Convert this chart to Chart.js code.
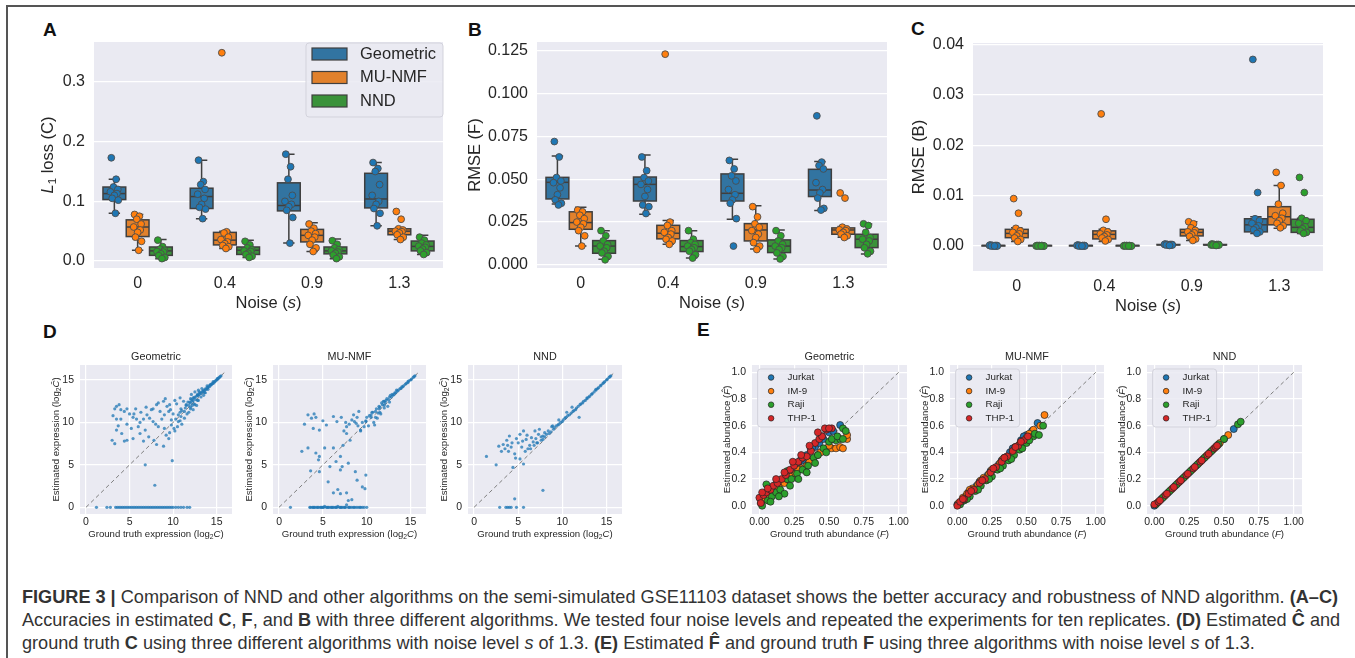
<!DOCTYPE html>
<html>
<head>
<meta charset="utf-8">
<script src="https://cdn.jsdelivr.net/npm/chart.js@4.4.1/dist/chart.umd.min.js"></script>
<style>
  body{margin:0;background:#fff;width:1355px;height:658px;overflow:hidden;position:relative;font-family:"Liberation Sans",Arial,sans-serif}
  #frame{position:absolute;left:6px;top:5px;width:1400px;height:700px;border-top:2px solid #555;border-left:2px solid #555}
  .pane{position:absolute}
  .pane canvas{display:block}
  .tag{position:absolute;font-weight:bold;font-size:19px;line-height:19px;color:#111}
  #cap{position:absolute;left:22px;top:586px;font-size:17.6px;line-height:23px;color:#333;white-space:nowrap}
  #cap span{display:block}
</style>
</head>
<body>
<div id="frame"></div>
<div class="tag" style="left:43px;top:20px">A</div>
<div class="tag" style="left:468px;top:20px">B</div>
<div class="tag" style="left:911px;top:19px">C</div>
<div class="tag" style="left:43px;top:322px">D</div>
<div class="tag" style="left:697px;top:320px">E</div>

<div class="pane" style="left:20px;top:30px;width:430px;height:300px"><canvas id="cA"></canvas></div>
<div class="pane" style="left:463px;top:30px;width:431px;height:300px"><canvas id="cB"></canvas></div>
<div class="pane" style="left:899px;top:30px;width:431px;height:300px"><canvas id="cC"></canvas></div>

<div class="pane" style="left:38px;top:345px;width:202px;height:200px"><canvas id="dGeo"></canvas></div>
<div class="pane" style="left:231px;top:345px;width:203px;height:200px"><canvas id="dMu"></canvas></div>
<div class="pane" style="left:426px;top:345px;width:204px;height:200px"><canvas id="dNnd"></canvas></div>

<div class="pane" style="left:710px;top:345px;width:205px;height:200px"><canvas id="eGeo"></canvas></div>
<div class="pane" style="left:908px;top:345px;width:204px;height:200px"><canvas id="eMu"></canvas></div>
<div class="pane" style="left:1105px;top:345px;width:205px;height:200px"><canvas id="eNnd"></canvas></div>

<div id="cap">
  <span id="l1"><b>FIGURE 3 |</b> Comparison of NND and other algorithms on the semi-simulated GSE11103 dataset shows the better accuracy and robustness of NND algorithm. <b>(A–C)</b></span>
  <span>Accuracies in estimated <b>C</b>, <b>F</b>, and <b>B</b> with three different algorithms. We tested four noise levels and repeated the experiments for ten replicates. <b>(D)</b> Estimated <b>Ĉ</b> and</span>
  <span>ground truth <b>C</b> using three different algorithms with noise level <i>s</i> of 1.3. <b>(E)</b> Estimated <b>F̂</b> and ground truth <b>F</b> using three algorithms with noise level <i>s</i> of 1.3.</span>
</div>

<script>
(function(){
  // ---- data ----
  const NOISE = ['0', '0.4', '0.9', '1.3'];
  const METHODS = ['Geometric', 'MU-NMF', 'NND'];
  const CELLS = ['Jurkat', 'IM-9', 'Raji', 'THP-1'];

  const A_YTICKS = [0, 0.1, 0.2, 0.3];
  const B_YTICKS = [0, 0.025, 0.05, 0.075, 0.1, 0.125];
  const C_YTICKS = [0, 0.01, 0.02, 0.03, 0.04];
  const D_TICKS = [0, 5, 10, 15];
  const E_XTICKS = [0, 0.25, 0.5, 0.75, 1];
  const E_YTICKS = [0, 0.2, 0.4, 0.6, 0.8, 1];

  // A: L1 loss (C), ten replicates per noise level; boxes = [low whisker, q1, median, q3, high whisker]
  const A_PTS_GEO = [
    [0.173,0.137,0.124,0.120,0.116,0.113,0.110,0.105,0.102,0.080],
    [0.169,0.133,0.128,0.120,0.112,0.105,0.095,0.090,0.087,0.071],
    [0.179,0.158,0.137,0.110,0.100,0.095,0.091,0.085,0.073,0.030],
    [0.165,0.155,0.150,0.128,0.110,0.100,0.095,0.088,0.080,0.059]];
  const A_PTS_MU = [
    [0.078,0.075,0.070,0.062,0.057,0.052,0.048,0.040,0.033,0.018],
    [0.349,0.049,0.047,0.040,0.036,0.032,0.029,0.026,0.024,0.021],
    [0.062,0.055,0.050,0.046,0.043,0.040,0.035,0.028,0.022,0.016],
    [0.083,0.070,0.054,0.052,0.050,0.049,0.047,0.044,0.040,0.036]];
  const A_PTS_NND = [
    [0.035,0.024,0.020,0.018,0.016,0.015,0.012,0.009,0.006,0.004],
    [0.033,0.027,0.022,0.019,0.017,0.016,0.013,0.011,0.008,0.006],
    [0.034,0.028,0.022,0.019,0.017,0.015,0.013,0.010,0.007,0.004],
    [0.040,0.035,0.030,0.027,0.025,0.023,0.020,0.017,0.014,0.011]];
  const A_BOX_GEO = [[0.080,0.103,0.113,0.124,0.137],[0.071,0.088,0.108,0.122,0.169],[0.030,0.084,0.093,0.131,0.179],[0.059,0.089,0.104,0.147,0.165]];
  const A_BOX_MU = [[0.018,0.041,0.057,0.069,0.078],[0.021,0.027,0.035,0.048,0.050],[0.016,0.032,0.043,0.053,0.064],[0.036,0.044,0.050,0.054,0.054]];
  const A_BOX_NND = [[0.004,0.0095,0.017,0.0235,0.036],[0.006,0.011,0.018,0.0235,0.035],[0.004,0.012,0.017,0.0235,0.037],[0.011,0.017,0.0245,0.0335,0.043]];

  // B: RMSE (F)
  const B_PTS_GEO = [
    [0.072,0.063,0.051,0.049,0.048,0.045,0.041,0.038,0.036,0.035],
    [0.063,0.055,0.051,0.049,0.047,0.044,0.040,0.035,0.034,0.030],
    [0.061,0.056,0.052,0.049,0.044,0.041,0.038,0.036,0.027,0.011],
    [0.087,0.060,0.058,0.056,0.048,0.044,0.042,0.039,0.033,0.032]];
  const B_PTS_MU = [
    [0.032,0.031,0.029,0.027,0.025,0.024,0.022,0.020,0.017,0.011],
    [0.123,0.025,0.023,0.020,0.019,0.018,0.016,0.015,0.014,0.012],
    [0.034,0.028,0.024,0.022,0.020,0.018,0.016,0.013,0.011,0.009],
    [0.042,0.039,0.022,0.021,0.0205,0.020,0.019,0.018,0.017,0.016]];
  const B_PTS_NND = [
    [0.020,0.017,0.014,0.012,0.011,0.010,0.008,0.007,0.005,0.003],
    [0.020,0.015,0.013,0.012,0.011,0.010,0.009,0.008,0.006,0.004],
    [0.020,0.017,0.014,0.012,0.011,0.010,0.009,0.007,0.005,0.0035],
    [0.024,0.023,0.019,0.016,0.015,0.014,0.012,0.010,0.008,0.0065]];
  const B_BOX_GEO = [[0.0356,0.0385,0.0482,0.0511,0.0636],[0.0295,0.0373,0.047,0.0513,0.0642],[0.0266,0.0373,0.0418,0.0531,0.0616],[0.0317,0.0399,0.0437,0.0558,0.0603]];
  const B_BOX_MU = [[0.011,0.0208,0.0247,0.031,0.0336],[0.012,0.0152,0.0185,0.0231,0.0259],[0.0093,0.014,0.0204,0.0241,0.0346],[0.0161,0.0179,0.0204,0.0216,0.0224]];
  const B_BOX_NND = [[0.0033,0.0068,0.011,0.0142,0.020],[0.004,0.0078,0.0107,0.0142,0.020],[0.0035,0.0072,0.011,0.0146,0.0204],[0.0064,0.0101,0.015,0.0179,0.0239]];

  // C: RMSE (B)
  const C_PTS_GEO = [
    [0.0002,0.0001,0.0001,0.0001,0.0001,0,0,0,0,0],
    [0.0002,0.0001,0.0001,0.0001,0.0001,0,0,0,0,0],
    [0.0004,0.0003,0.0003,0.0003,0.0003,0.0002,0.0002,0.0002,0.0002,0.0001],
    [0.0370,0.0106,0.0054,0.0050,0.0045,0.0040,0.0036,0.0032,0.0028,0.0025]];
  const C_PTS_MU = [
    [0.0094,0.0065,0.0035,0.0030,0.0027,0.0024,0.0020,0.0016,0.0013,0.0009],
    [0.0262,0.0053,0.0031,0.0028,0.0024,0.0022,0.0019,0.0016,0.0013,0.0010],
    [0.0048,0.0044,0.0036,0.0031,0.0028,0.0026,0.0022,0.0019,0.0014,0.0011],
    [0.0146,0.0120,0.0083,0.0065,0.0060,0.0055,0.0050,0.0045,0.0040,0.0036]];
  const C_PTS_NND = [
    [0.0001,0.0001,0.0001,0,0,0,0,0,0,0],
    [0.0001,0.0001,0.0001,0,0,0,0,0,0,0],
    [0.0004,0.0003,0.0003,0.0003,0.0002,0.0002,0.0002,0.0002,0.0002,0.0001],
    [0.0136,0.0106,0.0055,0.0050,0.0045,0.0038,0.0034,0.0030,0.0027,0.0025]];
  const C_BOX_GEO = [[0,0,0.0001,0.0001,0.0002],[0,0,0.0001,0.0001,0.0002],[0.0001,0.0002,0.00025,0.0003,0.0004],[0.0025,0.0028,0.0042,0.0054,0.0058]];
  const C_BOX_MU = [[0.0009,0.00165,0.0025,0.0033,0.0036],[0.0009,0.0014,0.0023,0.0030,0.0033],[0.0011,0.0020,0.0027,0.0033,0.0048],[0.0035,0.0042,0.0058,0.0078,0.0120]];
  const C_BOX_NND = [[0,0,0.0001,0.0001,0.0001],[0,0,0.0001,0.0001,0.0001],[0.0001,0.0002,0.0002,0.0003,0.0004],[0.0025,0.0027,0.0037,0.0053,0.0055]];

  // D: estimated vs ground-truth expression (log2), noise s = 1.3
  const D_GEO = [
    [1.2,0],[2.4,0],[2.8,0],[3.4,0],[3.6,0],[3.8,0],[4.0,0],[4.2,0],[4.4,0],[4.6,0],[4.8,0],[5.0,0],[5.2,0],[5.4,0],[5.6,0],
    [5.8,0],[6.0,0],[6.2,0],[6.4,0],[6.6,0],[6.8,0],[7.0,0],[7.2,0],[7.4,0],[7.6,0],[7.8,0],[8.0,0],[8.2,0],[8.4,0],[8.6,0],
    [8.8,0],[9.0,0],[9.2,0],[9.4,0],[9.6,0],[9.8,0],[10.0,0],[10.3,0],[10.6,0],[10.9,0],[11.2,0],[11.6,0],[11.9,0],
    [3.3,11.6],[3.5,11.9],[3.8,12.1],[3.1,10.8],[3.5,10.4],[4.0,10.4],[4.7,11.6],[5.8,10.4],[6.6,10.4],[7.0,10.9],[7.5,11.5],
    [7.7,10.1],[8.1,12.1],[8.5,11.3],[8.9,12.5],[9.3,11.9],[9.7,11.5],[3.0,7.9],[3.3,7.5],[4.1,8.7],[4.7,7.9],[5.4,8.1],
    [6.2,8.7],[7.2,8.3],[8.1,7.4],[8.9,7.2],[5.2,9.3],[6.0,9.5],[6.8,9.1],[6.8,5.0],[7.9,2.6],[9.9,5.5],[4.7,9.8],[3.5,9.1],
    [6.3,11.2],[5.5,11.0],[8.0,9.8],[9.0,9.3],[4.4,11.3],
    [4.0,11.5],[5.0,11.0],[5.7,11.6],[6.9,11.8],[7.7,11.6],[8.3,12.3],[9.1,12.8],[9.6,12.1],[10.2,12.6],[10.8,12.9],[5.4,10.6],
    [6.2,10.0],[7.3,10.5],[8.7,10.4],[9.0,10.9],[8.3,9.5],[4.4,7.8],[3.7,9.6],[6.6,7.8],[7.8,7.9],[9.5,8.1],
    [10.5,9.5],[10.2,9.0],[10.8,10.2],[11.0,9.8],[11.3,10.5],[10.6,10.9],[11.8,11.2],[12.0,12.3],[11.5,12.0],[10.0,11.0],
    [9.8,10.3],[10.9,11.6],[11.2,12.5],[12.3,12.9],[12.5,12.1],[12.8,13.3],[11.6,11.0],[10.4,12.2],[9.5,11.3],[12.0,11.6],
    [11.5,12.1],[11.8,12.0],[12.0,12.8],[12.2,12.5],[12.4,12.9],[12.6,12.7],[12.8,13.2],[13.0,13.3],[13.2,13.4],[13.4,13.65],
    [13.6,13.75],[13.8,13.9],[14.0,14.1],[14.2,14.25],[14.4,14.45],[14.6,14.6],[14.8,14.8],[15.0,15.0],[15.2,15.2],[15.4,15.4],
    [12.1,13.3],[12.5,13.6],[12.9,13.8],[13.3,14.0],[13.0,13.6],[12.3,11.5],[12.7,12.0],[13.5,13.2],[13.9,14.3],[14.3,14.5],
    [12.2,12.0],[12.9,12.6],[13.7,13.5],[14.6,14.8],[15.1,15.2],
    [11.9,12.4],[12.1,12.7],[12.3,12.6],[12.5,13.0],[12.7,13.1],[12.9,13.2],[13.1,13.5],[13.3,13.6],[13.5,13.8],[13.7,13.95],
    [13.9,14.1],[14.1,14.3],[14.3,14.4],[14.5,14.6],[14.7,14.75],[14.9,14.95],[15.1,15.1],[15.3,15.3],[15.5,15.5],[12.0,11.8],
    [12.4,12.2],[12.8,12.6],[13.2,13.0],[13.6,13.5],[14.0,13.9],[11.0,11.4],[11.4,11.7],[11.7,12.4],[10.8,11.2],[11.3,11.3],
    [10.3,10.4],[10.6,10.1],[9.8,9.7],[10.1,9.3],[9.6,8.8],[9.2,8.5],[10.9,10.7]];
  const D_MU = [
    [1.3,0],[3.5,0],[3.6,0],[3.8,0],[3.9,0],[4.0,0],[4.1,0],[4.3,0],[4.4,0],[4.5,0],[4.7,0],[4.8,0],[4.9,0],[5.0,0],[5.1,0],
    [5.2,0.1],[5.4,0],[5.5,0],[5.6,0],[5.7,0],[5.9,0],[6.0,0],[6.1,0],[6.2,0],[6.4,0],[6.5,0],[6.6,0],[6.7,0.1],[6.9,0],
    [7.0,0],[7.1,0],[7.2,0],[7.4,0],[7.5,0],[7.6,0],[7.7,0.3],[7.9,0],[8.0,0],[8.1,0],[8.3,0],[8.5,0],[8.6,0],[8.8,0],
    [9.0,0],[9.2,0],[9.3,0],[9.5,0],[9.7,0],[10.0,0],
    [6.2,1.7],[6.7,2.1],[7.7,1.7],[7.9,0.8],[8.3,0.9],[8.9,3.2],[9.5,2.4],[9.8,2.2],[9.9,3.8],[3.6,4.3],[4.6,4.2],[5.6,3.0],
    [7.0,1.6],[7.2,4.8],[8.7,4.2],
    [2.6,6.6],[3.3,7.0],[4.2,6.4],[4.6,6.0],[5.2,7.0],[6.2,7.0],[6.5,5.4],[7.0,6.0],[7.3,7.3],[8.1,7.9],[7.9,5.2],[7.0,4.4],
    [5.8,4.8],[4.5,5.6],[7.4,9.0],[7.7,8.7],
    [2.9,9.8],[3.3,10.9],[3.7,10.5],[3.9,9.3],[4.2,10.6],[4.6,9.1],[5.4,9.7],[6.2,10.7],[6.6,10.1],[7.1,10.6],[7.7,9.5],
    [8.3,10.3],[8.9,10.6],[9.3,9.1],[9.9,10.1],[10.5,10.6],[10.9,9.7],[9.1,11.3],[8.5,10.9],[4.0,11.0],[5.0,10.2],
    [8.6,10.1],[8.0,9.8],[7.6,10.0],[8.8,9.9],
    [10.0,10.6],[10.5,10.9],[11.0,11.3],[11.3,11.1],[11.5,11.8],[11.8,12.1],[12.0,12.0],[12.2,12.6],[12.5,12.7],[12.8,13.0],
    [13.0,13.2],[13.3,13.5],[13.6,13.8],[13.9,14.0],[14.2,14.3],[14.5,14.6],[14.8,14.9],[15.1,15.1],[15.4,15.4],
    [10.8,10.0],[11.2,10.5],[11.6,11.0],[12.4,11.9],[9.7,9.5],[9.3,9.0],[10.2,9.6],[11.9,12.5],[12.7,13.2],[13.4,13.8],
    [14.0,14.2],[14.7,14.7],[10.7,11.2],[11.4,11.6],[12.1,12.3],[13.1,13.3],
    [10.3,10.8],[10.6,11.2],[11.1,11.6],[11.4,11.9],[11.7,12.3],[12.0,12.5],[12.3,12.8],[12.6,13.0],[12.9,13.3],[13.2,13.5],
    [13.5,13.7],[13.8,14.0],[14.1,14.2],[14.4,14.5],[14.7,14.8],[15.0,15.0],[15.3,15.3],[15.5,15.5],[11.0,10.6],[11.5,11.2],
    [12.0,11.7],[12.6,12.4],[9.9,10.2],[9.5,10.0],[9.0,9.6]];
  const D_NND = [
    [2.9,0],[3.6,0],[3.8,0],[4.0,0],[4.2,0],[4.8,0],[5.6,0],[4.6,1.0],[7.8,2.0],[1.4,6.0],[2.5,5.0],
    [2.8,7.2],[3.3,7.4],[3.5,6.9],[3.7,7.9],[4.0,8.4],[4.2,7.1],[4.6,6.3],[5.0,7.6],[5.2,8.6],[5.6,9.0],[5.9,8.0],[6.1,6.9],
    [6.5,8.2],[6.9,9.0],[7.1,7.6],[7.3,8.6],[7.4,9.2],[7.8,8.0],[8.0,8.8],[8.4,9.0],[8.8,9.5],[5.2,5.7],[5.6,5.1],[4.4,4.7],
    [3.9,6.6],[3.1,6.6],[4.7,5.8],[6.3,7.3],[5.4,7.1],[6.7,7.7],[7.6,8.3],
    [6.8,7.3],[7.2,7.6],[7.6,7.9],[8.0,8.3],[5.8,6.6],[6.4,6.9],[4.8,8.1],[5.5,7.8],[6.0,8.5],[7.0,8.1],[4.3,7.6],[3.8,7.3],
    [8.5,8.7],[9.0,9.2],[9.3,9.6],[9.6,9.8],[10.0,10.1],[10.3,10.5],[10.6,10.8],[11.0,11.1],[11.3,11.4],[11.6,11.7],
    [12.0,12.1],[12.3,12.3],[12.6,12.6],[13.0,13.0],[13.3,13.3],[13.6,13.6],[14.0,14.0],[14.3,14.3],[14.6,14.6],[15.0,15.0],
    [15.3,15.3],[11.9,10.6],[11.1,11.8],[7.8,8.4],[8.2,8.6],[8.9,9.6],[10.5,11.2],[9.6,10.3],[12.8,12.9],[13.8,13.9],[14.8,14.8],
    [8.7,8.9],[9.1,9.4],[9.5,9.7],[9.8,10.0],[10.1,10.3],[10.4,10.6],[10.8,10.9],[11.2,11.3],[11.5,11.5],[11.8,11.9],
    [12.1,12.2],[12.4,12.5],[12.8,12.8],[13.1,13.1],[13.4,13.4],[13.8,13.8],[14.1,14.1],[14.4,14.4],[14.7,14.7],[15.1,15.1],
    [15.4,15.4],[15.5,15.5]];
  const D_DIAG = [[0, 0], [16, 16]];

  // E: estimated vs ground-truth abundance per cell line, noise s = 1.3
  const E_GEO_JUR = [[0.02,0.04],[0.05,0.07],[0.08,0.10],[0.10,0.13],[0.13,0.15],[0.16,0.18],[0.19,0.22],[0.22,0.25],[0.25,0.28],[0.28,0.30],[0.31,0.34],[0.34,0.38],[0.37,0.42],[0.40,0.44],[0.43,0.47],[0.46,0.50],[0.50,0.55],[0.58,0.605],
    [0.12,0.16],[0.20,0.24],[0.30,0.35],[0.38,0.44],[0.45,0.52],[0.53,0.56]];
  const E_GEO_IM9 = [[0.01,0.02],[0.04,0.05],[0.07,0.08],[0.10,0.10],[0.14,0.14],[0.18,0.17],[0.22,0.22],[0.26,0.24],[0.30,0.28],[0.34,0.30],[0.38,0.35],[0.42,0.38],[0.46,0.42],[0.52,0.43],[0.55,0.43],[0.58,0.44],[0.63,0.50],[0.63,0.53],
    [0.12,0.13],[0.20,0.20],[0.28,0.27],[0.36,0.33],[0.44,0.40],[0.50,0.45],[0.60,0.43]];
  const E_GEO_RAJI = [[0.02,0.00],[0.05,0.16],[0.06,0.04],[0.09,0.07],[0.12,0.10],[0.15,0.12],[0.18,0.09],[0.20,0.20],[0.20,0.26],[0.23,0.20],[0.27,0.24],[0.31,0.27],[0.35,0.30],[0.39,0.36],[0.42,0.38],[0.46,0.43],[0.50,0.48],[0.55,0.49],[0.58,0.50],[0.60,0.58],[0.62,0.56],
    [0.08,0.03],[0.14,0.07],[0.22,0.15],[0.28,0.20],[0.34,0.25],[0.40,0.32],[0.48,0.40],[0.52,0.50],[0.56,0.52],[0.60,0.50]];
  const E_GEO_THP = [[0.00,0.06],[0.01,0.02],[0.03,0.08],[0.05,0.10],[0.08,0.12],[0.10,0.15],[0.13,0.17],[0.16,0.20],[0.19,0.23],[0.22,0.27],[0.25,0.30],[0.28,0.33],[0.31,0.36],[0.34,0.37],[0.37,0.41],[0.40,0.47],[0.43,0.50],[0.45,0.52],[0.48,0.57],[0.52,0.58],
    [0.02,0.10],[0.06,0.13],[0.12,0.20],[0.18,0.25],[0.24,0.33],[0.30,0.38],[0.36,0.45],[0.42,0.55],[0.47,0.58],[0.50,0.58]];
  const E_MU_JUR = [[0.00,0.01],[0.03,0.03],[0.06,0.07],[0.10,0.11],[0.14,0.15],[0.18,0.19],[0.22,0.23],[0.26,0.27],[0.30,0.31],[0.34,0.36],[0.38,0.40],[0.42,0.44],[0.46,0.49],[0.50,0.53],[0.58,0.62],
    [0.08,0.10],[0.16,0.18],[0.24,0.26],[0.32,0.34],[0.40,0.43],[0.48,0.52],[0.54,0.56]];
  const E_MU_IM9 = [[0.01,0.02],[0.04,0.06],[0.07,0.09],[0.11,0.13],[0.15,0.16],[0.19,0.21],[0.23,0.24],[0.27,0.28],[0.31,0.32],[0.35,0.36],[0.40,0.41],[0.45,0.46],[0.50,0.51],[0.55,0.57],[0.63,0.68],
    [0.09,0.12],[0.17,0.19],[0.25,0.27],[0.33,0.35],[0.42,0.44],[0.52,0.54],[0.60,0.60]];
  const E_MU_RAJI = [[0.02,0.01],[0.05,0.04],[0.09,0.07],[0.13,0.11],[0.17,0.15],[0.21,0.19],[0.25,0.22],[0.29,0.27],[0.33,0.30],[0.37,0.34],[0.41,0.38],[0.45,0.42],[0.50,0.47],[0.55,0.52],[0.56,0.54],[0.62,0.60],
    [0.07,0.05],[0.15,0.12],[0.23,0.20],[0.31,0.28],[0.39,0.35],[0.47,0.43],[0.52,0.49],[0.59,0.53]];
  const E_MU_THP = [[0.00,0.00],[0.02,0.03],[0.05,0.05],[0.08,0.09],[0.12,0.12],[0.16,0.17],[0.20,0.20],[0.24,0.25],[0.28,0.29],[0.32,0.33],[0.36,0.37],[0.40,0.41],[0.44,0.45],[0.48,0.49],[0.51,0.52],
    [0.04,0.05],[0.10,0.11],[0.18,0.19],[0.26,0.28],[0.34,0.36],[0.42,0.44],[0.46,0.48]];
  const E_NND_JUR = [[0.00,0.00],[0.05,0.05],[0.10,0.10],[0.15,0.15],[0.20,0.20],[0.25,0.25],[0.30,0.30],[0.35,0.35],[0.40,0.40],[0.45,0.45],[0.50,0.50],[0.57,0.575]];
  const E_NND_IM9 = [[0.02,0.02],[0.07,0.07],[0.12,0.12],[0.17,0.17],[0.22,0.22],[0.27,0.27],[0.32,0.32],[0.37,0.37],[0.42,0.42],[0.47,0.47],[0.53,0.53]];
  const E_NND_RAJI = [[0.01,0.01],[0.06,0.06],[0.11,0.11],[0.16,0.16],[0.21,0.21],[0.26,0.26],[0.31,0.31],[0.36,0.36],[0.41,0.41],[0.46,0.46],[0.50,0.50],[0.60,0.61],[0.62,0.63]];
  const E_NND_THP = [[0.00,0.01],[0.03,0.03],[0.04,0.04],[0.08,0.08],[0.09,0.09],[0.13,0.13],[0.14,0.14],[0.18,0.18],[0.19,0.19],[0.23,0.23],[0.24,0.24],[0.28,0.28],[0.29,0.29],[0.33,0.33],[0.34,0.34],[0.38,0.38],[0.39,0.39],[0.43,0.43],[0.44,0.44],[0.45,0.45]];
  const E_DIAG = [[0, 0], [1, 1]];

  // ---- styling ----
  const FONT = '"Liberation Sans", Arial, sans-serif';
  const BG = '#eaeaf2';
  const BOX_COLORS = ['#3274a1', '#e1812c', '#3a923a'];
  const PT_COLORS = ['#1f77b4', '#ff7f0e', '#2ca02c'];
  const CELL_COLORS = ['#1f77b4', '#ff7f0e', '#2ca02c', '#d62728'];
  const HUE_OFF = [-0.2667, 0, 0.2667];
  const BOX_W = 0.261;
  const JIT = [-0.035, 0.02, -0.01, 0.04, -0.045, 0.03, 0.0, -0.025, 0.045, 0.012];

  Chart.defaults.font.family = FONT;
  Chart.defaults.color = '#262626';
  Chart.defaults.animation = false;

  function qs(sel){ return document.querySelector(sel); }
  function fontOf(r, size){ return (r.i ? 'italic ' : '') + (r.b ? 'bold ' : '') + (r.sub ? size * 0.7 : size) + 'px ' + FONT; }
  function drawRich(ctx, runs, cx, cy, size, rot){
    ctx.save();
    ctx.translate(cx, cy);
    if (rot) ctx.rotate(-Math.PI / 2);
    ctx.fillStyle = '#262626'; ctx.textBaseline = 'middle'; ctx.textAlign = 'left';
    let w = 0;
    runs.forEach(r => { ctx.font = fontOf(r, size); w += ctx.measureText(r.t).width; });
    let x = -w / 2;
    runs.forEach(r => { ctx.font = fontOf(r, size); ctx.fillText(r.t, x, r.sub ? size * 0.28 : 0); x += ctx.measureText(r.t).width; });
    ctx.restore();
  }

  const bgPlugin = { id: 'panelBg', beforeDraw(chart){
    const a = chart.chartArea, c = chart.ctx;
    c.save(); c.fillStyle = BG; c.fillRect(a.left, a.top, a.right - a.left, a.bottom - a.top); c.restore();
  } };

  const textPlugin = { id: 'texts', afterDraw(chart, args, o){
    const a = chart.chartArea, c = chart.ctx, mid = (a.left + a.right) / 2;
    if (o.top) drawRich(c, o.top, mid, a.top - o.topDy, o.topSize, false);
    if (o.x) drawRich(c, o.x, mid, a.bottom + o.xDy, o.size, false);
    if (o.y) drawRich(c, o.y, a.left - o.yDx, (a.top + a.bottom) / 2, o.size, true);
  } };

  const boxPlugin = { id: 'boxes', beforeDatasetsDraw(chart, args, o){
    const c = chart.ctx, x = chart.scales.x, y = chart.scales.y;
    c.save(); c.lineWidth = 1.5; c.strokeStyle = '#3f3f3f';
    o.sets.forEach((set, h) => set.forEach((b, k) => {
      const cx = k + HUE_OFF[h];
      const l = x.getPixelForValue(cx - BOX_W / 2), r = x.getPixelForValue(cx + BOX_W / 2), m = x.getPixelForValue(cx);
      const cl = x.getPixelForValue(cx - BOX_W / 4), cr = x.getPixelForValue(cx + BOX_W / 4);
      const p = b.map(v => y.getPixelForValue(v));
      c.beginPath();
      c.moveTo(m, p[1]); c.lineTo(m, p[0]); c.moveTo(m, p[3]); c.lineTo(m, p[4]);
      c.moveTo(cl, p[0]); c.lineTo(cr, p[0]); c.moveTo(cl, p[4]); c.lineTo(cr, p[4]);
      c.stroke();
      c.fillStyle = BOX_COLORS[h];
      c.fillRect(l, p[3], r - l, p[1] - p[3]);
      c.strokeRect(l, p[3], r - l, p[1] - p[3]);
      c.beginPath(); c.moveTo(l, p[2]); c.lineTo(r, p[2]); c.stroke();
    }));
    c.restore();
  } };

  // legend boxes for panel A (patches) and panel E (markers)
  const legendPlugin = { id: 'legendBox', afterDatasetsDraw(chart, args, o){
    if (!o.items) return;
    const a = chart.chartArea, c = chart.ctx;
    const fx = o.anchor === 'right' ? a.right - o.w - o.inset : a.left + o.inset;
    const fy = a.top + o.insetTop;
    c.save();
    c.fillStyle = 'rgba(234,234,242,0.85)'; c.strokeStyle = '#d3d3dc'; c.lineWidth = 1;
    c.beginPath(); c.roundRect(fx, fy, o.w, o.h, 3); c.fill(); c.stroke();
    c.textBaseline = 'middle'; c.textAlign = 'left'; c.font = o.size + 'px ' + FONT; c.fillStyle = '#262626';
    o.items.forEach((it, i) => {
      const yy = fy + o.row0 + i * o.rowH;
      if (o.patch) {
        c.fillStyle = it.color; c.fillRect(fx + o.mx, yy - 6, 35, 12);
        c.strokeStyle = '#3f3f3f'; c.lineWidth = 1.2; c.strokeRect(fx + o.mx, yy - 6, 35, 12);
      } else {
        c.fillStyle = it.color; c.strokeStyle = '#222'; c.lineWidth = 0.7;
        c.beginPath(); c.arc(fx + o.mx, yy, 2.8, 0, Math.PI * 2); c.fill(); c.stroke();
      }
      c.fillStyle = '#262626'; c.fillText(it.label, fx + o.tx, yy);
    });
    c.restore();
  } };

  function axis(min, max, ticks, fmt, size, pad, fixed, isX, grid){
    return {
      type: 'linear', min, max,
      border: { display: false },
      grid: { display: grid, color: '#ffffff', lineWidth: 1.2, drawTicks: false },
      ticks: { font: { size }, padding: pad, color: '#262626', maxRotation: 0, autoSkip: false, callback: v => fmt(v) },
      afterBuildTicks(s){ s.ticks = ticks.map(v => ({ value: v })); },
      afterFit(s){
        if (isX) s.height = fixed; else s.width = fixed;
        s.paddingTop = 0; s.paddingBottom = 0; s.paddingLeft = 0; s.paddingRight = 0;
      }
    };
  }

  const NOISE_RUNS = [{ t: 'Noise (' }, { t: 's', i: 1 }, { t: ')' }];

  function boxPanel(id, pts, boxes, yMin, yMax, yTicks, dec, yRuns, yDx, padTop, xH, legend){
    const datasets = pts.map((set, h) => ({
      label: METHODS[h],
      data: [].concat(...set.map((vals, k) => vals.map((v, j) => ({ x: k + HUE_OFF[h] + JIT[j], y: v })))),
      backgroundColor: PT_COLORS[h], borderColor: '#4d4d4d', borderWidth: 0.9, pointRadius: 3.4
    }));
    new Chart(qs(id), {
      type: 'scatter',
      data: { datasets },
      options: {
        responsive: true, maintainAspectRatio: false,
        layout: { padding: { top: padTop, right: 7, left: 0, bottom: 0 } },
        scales: {
          x: axis(-0.5, 3.5, [0, 1, 2, 3], v => NOISE[v], 16, 6, xH, true, false),
          y: axis(yMin, yMax, yTicks, v => v.toFixed(dec), 16, 9, 74, false, true)
        },
        plugins: {
          legend: { display: false }, tooltip: { enabled: false },
          boxes: { sets: boxes },
          texts: { x: NOISE_RUNS, xDy: 35, y: yRuns, yDx: yDx, size: 16.5 },
          legendBox: legend || {}
        }
      },
      plugins: [bgPlugin, boxPlugin, textPlugin, legendPlugin]
    });
  }

  function toXY(arr){ return arr.map(p => ({ x: p[0], y: p[1] })); }

  function scatterPanel(id, datasets, xr, yr, xTicks, yTicks, fx, fy, title, xRuns, yRuns, yDx, legend){
    new Chart(qs(id), {
      type: 'scatter',
      data: { datasets },
      options: {
        responsive: true, maintainAspectRatio: false,
        layout: { padding: { top: 20, right: 8, left: 0, bottom: 0 } },
        scales: {
          x: axis(xr[0], xr[1], xTicks, fx, 10.5, 2, 31, true, true),
          y: axis(yr[0], yr[1], yTicks, fy, 10.5, 6, 42, false, true)
        },
        plugins: {
          legend: { display: false }, tooltip: { enabled: false },
          texts: { top: [{ t: title }], topDy: 8, topSize: 10.8, x: xRuns, xDy: 20, y: yRuns, yDx: yDx, size: 9.6 },
          legendBox: legend || {}
        }
      },
      plugins: [bgPlugin, textPlugin, legendPlugin]
    });
  }

  // ---- panels A-C ----
  boxPanel('#cA', [A_PTS_GEO, A_PTS_MU, A_PTS_NND], [A_BOX_GEO, A_BOX_MU, A_BOX_NND], -0.0117, 0.367, A_YTICKS, 1,
    [{ t: 'L', i: 1 }, { t: '1', sub: 1 }, { t: ' loss (C)' }], 46, 12, 62,
    { items: METHODS.map((m, i) => ({ label: m, color: BOX_COLORS[i] })), patch: true, anchor: 'right', inset: 0, insetTop: 1,
      w: 137, h: 74, row0: 11, rowH: 23.5, mx: 6, tx: 54, size: 16.5 });
  boxPanel('#cB', [B_PTS_GEO, B_PTS_MU, B_PTS_NND], [B_BOX_GEO, B_BOX_MU, B_BOX_NND], -0.0018, 0.1301, B_YTICKS, 3,
    [{ t: 'RMSE (F)' }], 62, 12, 62);
  boxPanel('#cC', [C_PTS_GEO, C_PTS_MU, C_PTS_NND], [C_BOX_GEO, C_BOX_MU, C_BOX_NND], -0.00496, 0.04026, C_YTICKS, 2,
    [{ t: 'RMSE (B)' }], 54, 13, 59);

  // ---- panel D ----
  const D_X = [{ t: 'Ground truth expression (log' }, { t: '2', sub: 1 }, { t: 'C', i: 1 }, { t: ')' }];
  const D_Y = [{ t: 'Estimated expression (log' }, { t: '2', sub: 1 }, { t: 'Ĉ', i: 1 }, { t: ')' }];
  function dSets(pts){
    return [
      { data: toXY(pts), backgroundColor: 'rgba(31,119,180,0.75)', borderWidth: 0, pointRadius: 1.6 },
      { type: 'line', data: toXY(D_DIAG), borderColor: '#7f7f7f', borderWidth: 1, borderDash: [4, 3], pointRadius: 0 }
    ];
  }
  const intFmt = v => String(v);
  [['#dGeo', D_GEO, METHODS[0]], ['#dMu', D_MU, METHODS[1]], ['#dNnd', D_NND, METHODS[2]]].forEach(p => {
    scatterPanel(p[0], dSets(p[1]), [-0.69, 16.76], [-0.79, 16.77], D_TICKS, D_TICKS, intFmt, intFmt, p[2], D_X, D_Y, 24);
  });

  // ---- panel E ----
  const E_X = [{ t: 'Ground truth abundance (' }, { t: 'F', i: 1 }, { t: ')' }];
  const E_Y = [{ t: 'Estimated abundance (' }, { t: 'F̂', i: 1 }, { t: ')' }];
  const E_LEGEND = { items: CELLS.map((c, i) => ({ label: c, color: CELL_COLORS[i] })), patch: false, anchor: 'left', inset: 5.6, insetTop: 4,
    w: 64, h: 58, row0: 8.5, rowH: 13.6, mx: 13.5, tx: 30, size: 9.8 };
  function eSets(groups){
    const sets = groups.map((g, i) => ({ label: CELLS[i], data: toXY(g), backgroundColor: CELL_COLORS[i], borderColor: '#222', borderWidth: 0.7, pointRadius: 3.5 }));
    sets.reverse();
    sets.push({ type: 'line', data: toXY(E_DIAG), borderColor: '#7f7f7f', borderWidth: 1, borderDash: [4, 3], pointRadius: 0 });
    return sets;
  }
  [['#eGeo', [E_GEO_JUR, E_GEO_IM9, E_GEO_RAJI, E_GEO_THP], METHODS[0]],
   ['#eMu', [E_MU_JUR, E_MU_IM9, E_MU_RAJI, E_MU_THP], METHODS[1]],
   ['#eNnd', [E_NND_JUR, E_NND_IM9, E_NND_RAJI, E_NND_THP], METHODS[2]]].forEach(p => {
    scatterPanel(p[0], eSets(p[1]), [-0.053, 1.06], [-0.062, 1.055], E_XTICKS, E_YTICKS, v => v.toFixed(2), v => v.toFixed(1), p[2], E_X, E_Y, 25, E_LEGEND);
  });

  // fit the caption to the figure width
  const l1 = qs('#l1');
  qs('#cap').style.fontSize = (17.6 * 1319 / l1.getBoundingClientRect().width) + 'px';
})();
</script>
</body>
</html>
